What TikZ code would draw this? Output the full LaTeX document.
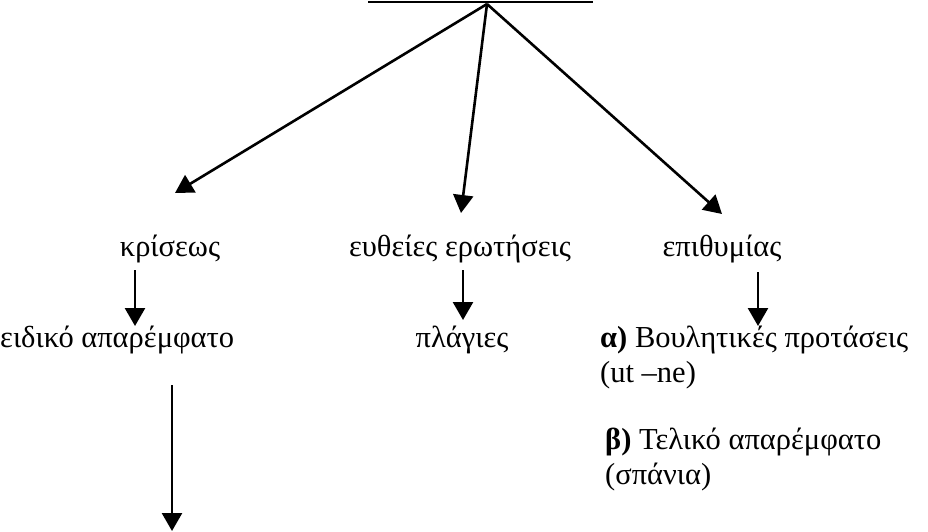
\documentclass[tikz,border=0pt]{standalone}
\usepackage{fontspec}
\setmainfont{Liberation Serif}
\usetikzlibrary{arrows.meta}

\begin{document}
\begin{tikzpicture}[x=1pt,y=-1pt,
  lbl/.style={inner sep=0pt,font=\fontsize{30.5}{35}\selectfont},
  arr/.style={line width=2.6pt,-{Triangle[width=20pt,length=18pt]}}]
\useasboundingbox (0,0) rectangle (928,531);
% cut-off heading: only its underline shows
\coordinate (top) at (487,4);
\coordinate (ulL) at (368,2);
\coordinate (ulR) at (593,2);
\draw[line width=2.4pt] (ulL) -- (ulR);
% first level
\node[lbl] (kris) at (170,249) {κρίσεως};
\node[lbl] (erot) at (460,249) {ευθείες ερωτήσεις};
\node[lbl] (epit) at (722,249) {επιθυμίας};
\coordinate (tkris) at (175,193);
\coordinate (terot) at (461,213);
\coordinate (tepit) at (722,214);
\foreach \t in {tkris,terot,tepit}{ \draw[arr] (top) -- (\t); }
% second level
\node[lbl,anchor=west] (eid) at (0,340) {ειδικό απαρέμφατο};
\node[lbl] (plag) at (462,340) {πλάγιες};
\node[lbl,anchor=north west,align=left] (voul) at (600,326)
  {\textbf{α)} Βουλητικές προτάσεις\\(ut –ne)};
\node[lbl,anchor=north west,align=left] (telik) at (605,428)
  {\textbf{β)} Τελικό απαρέμφατο\\(σπάνια)};
\coordinate (a1) at (135,270); \coordinate (b1) at (135,326);
\coordinate (a2) at (463,270); \coordinate (b2) at (463,320);
\coordinate (a3) at (758,272); \coordinate (b3) at (758,326);
\foreach \i in {1,2,3}{ \draw[arr] (a\i) -- (b\i); }
% long arrow below
\coordinate (a4) at (172,385);
\coordinate (b4) at (172,531);
\draw[arr] (a4) -- (b4);
\end{tikzpicture}
\end{document}
